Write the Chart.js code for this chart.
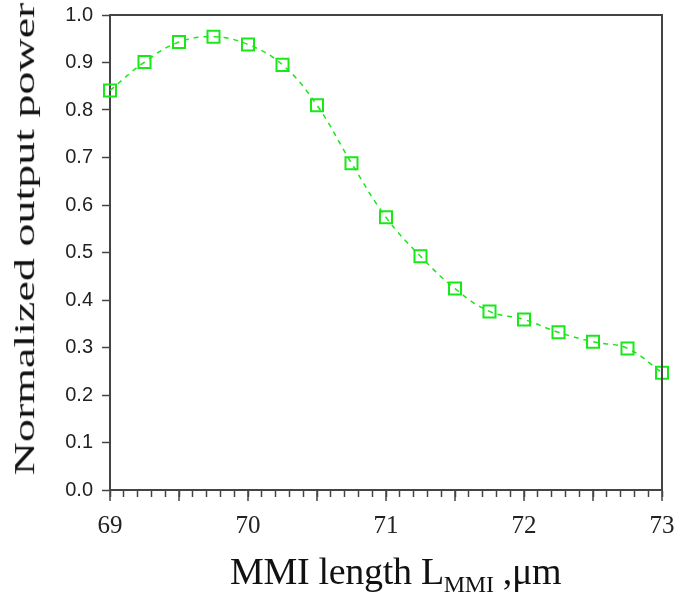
<!DOCTYPE html>
<html>
<head>
<meta charset="utf-8">
<script src="https://cdn.jsdelivr.net/npm/chart.js@4/dist/chart.umd.min.js"></script>
<style>
body{margin:0;background:#fff;}
#wrap{position:relative;width:675px;height:601px;}
#xt{position:absolute;left:230px;top:552px;font-family:"Liberation Serif","Times New Roman",serif;font-size:38px;line-height:38px;color:#111;white-space:nowrap;letter-spacing:-0.3px;}
#xt sub{font-size:24px;vertical-align:-8px;line-height:0;}
#ytAnchor{position:absolute;left:24px;top:239px;width:0;height:0;}
#yt{position:absolute;left:0;top:0;font-family:"Liberation Serif","Times New Roman",serif;font-size:46px;line-height:46px;color:#111;white-space:nowrap;transform:translate(-50%,-50%) rotate(-90deg) scaleY(0.65);}
</style>
</head>
<body>
<div id="wrap">
<canvas id="c" width="675" height="601"></canvas>
<div id="ytAnchor"><span id="yt">Normalized output power</span></div>
<div id="xt">MMI length L<sub>MMI</sub> ,μm</div>
</div>
<script>
// MMI length (um)
const lengths=[69,69.25,69.5,69.75,70,70.25,70.5,70.75,71,71.25,71.5,71.75,72,72.25,72.5,72.75,73];
// normalized output power
const power=[0.841,0.901,0.943,0.954,0.938,0.895,0.810,0.688,0.574,0.492,0.424,0.376,0.359,0.332,0.312,0.298,0.247];
const xTickLabels=['69','70','71','72','73'];
const yTickLabels=['0.0','0.1','0.2','0.3','0.4','0.5','0.6','0.7','0.8','0.9','1.0'];
// x positions that get a longer tick
const xLongTicks=[69,69.5,70,70.5,71,71.5,72,72.5,73];

const green='rgb(24,232,24)';
const axisCol='#444';

// frame on top and right of the plot + longer ticks on half units
const frame={
	id:'frame',
	afterDraw(chart){
		const a=chart.chartArea, ctx=chart.ctx;
		const xs=chart.scales.x;
		ctx.save();
		ctx.strokeStyle=axisCol;
		ctx.lineWidth=2;
		ctx.beginPath();
		ctx.moveTo(a.left,a.top);
		ctx.lineTo(a.right,a.top);
		ctx.lineTo(a.right,a.bottom);
		ctx.stroke();
		ctx.lineWidth=1.5;
		ctx.beginPath();
		xLongTicks.forEach(function(v){
			const px=Math.round(xs.getPixelForValue(v));
			ctx.moveTo(px,a.bottom);
			ctx.lineTo(px,a.bottom+11);
		});
		ctx.stroke();
		ctx.restore();
	}
};

const pts=lengths.map(function(x,i){return {x:x,y:power[i]};});

new Chart(document.getElementById('c').getContext('2d'),{
	type:'line',
	data:{
		datasets:[{
			data:pts,
			borderColor:green,
			borderWidth:1.5,
			borderDash:[5,5],
			tension:0.4,
			pointStyle:'rect',
			pointRadius:8.5,
			pointBorderWidth:2,
			pointBorderColor:green,
			pointBackgroundColor:'rgba(0,0,0,0)',
			clip:false
		}]
	},
	options:{
		responsive:false,
		animation:false,
		layout:{padding:{top:15,right:13,left:0,bottom:0}},
		plugins:{legend:{display:false},tooltip:{enabled:false}},
		scales:{
			x:{
				type:'linear',
				min:69,max:73,
				afterFit:function(s){s.height=111;s.paddingLeft=0;s.paddingRight=0;},
				border:{display:true,color:axisCol,width:2},
				grid:{drawOnChartArea:false,drawTicks:true,tickLength:7,tickColor:axisCol,tickWidth:1.5},
				ticks:{
					stepSize:0.1,
					autoSkip:false,
					maxRotation:0,
					padding:14,
					color:'#222',
					font:{family:'"Liberation Serif", "Times New Roman", serif',size:25},
					callback:function(v){
						const r=Math.round(v);
						if(Math.abs(v-r)<1e-6){
							const i=r-69;
							return xTickLabels[i]!==undefined?xTickLabels[i]:'';
						}
						return '';
					}
				}
			},
			y:{
				min:0,max:1,
				afterFit:function(s){s.width=110;s.paddingTop=0;s.paddingBottom=0;},
				border:{display:true,color:axisCol,width:2},
				grid:{drawOnChartArea:false,drawTicks:true,tickLength:8,tickColor:axisCol,tickWidth:1.5},
				ticks:{
					stepSize:0.1,
					autoSkip:false,
					padding:9,
					color:'#222',
					font:{family:'"Liberation Sans", Arial, sans-serif',size:20},
					callback:function(v){
						const i=Math.round(v*10);
						return yTickLabels[i];
					}
				}
			}
		}
	},
	plugins:[frame]
});
</script>
</body>
</html>
